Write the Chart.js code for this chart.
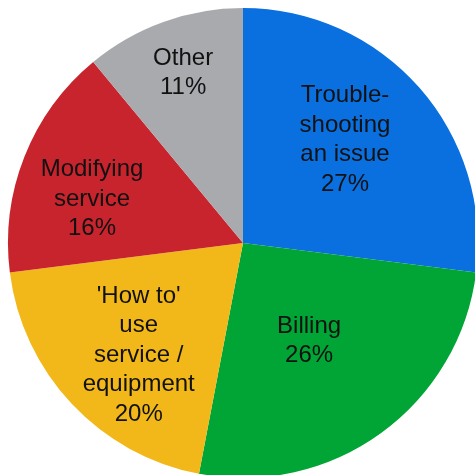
<!DOCTYPE html>
<html>
<head>
<meta charset="utf-8">
<script src="https://cdn.jsdelivr.net/npm/chart.js@4"></script>
<style>
  html, body { margin: 0; padding: 0; background: #fff; overflow: hidden; }
  #wrap { width: 475px; height: 475px; overflow: hidden; }
  canvas { display: block; }
</style>
</head>
<body>
<div id="wrap"><canvas id="myChart" width="486" height="486"></canvas></div>
<script>
// contact reasons, share of calls
var categories = ['Trouble-shooting an issue', 'Billing', "'How to' use service / equipment", 'Modifying service', 'Other'];
var labelLines = [
    ['Trouble-', 'shooting', 'an issue'],
    ['Billing'],
    ["'How to'", 'use', 'service /', 'equipment'],
    ['Modifying', 'service'],
    ['Other']
];
var shares = [27, 26, 20, 16, 11];
var colours = ['#0a70e0', '#00a535', '#f2b81a', '#c8242e', '#a8aaad'];

// where each label sits: fraction of the radius, and degrees off the slice middle
var labelSpots = [
    { r: 0.617, a: -3.9 },
    { r: 0.503, a: 2.0 },
    { r: 0.652, a: -3.9 },
    { r: 0.669, a: -5.4 },
    { r: 0.767, a: 0.4 }
];

const sliceLabels = {
    id: 'sliceLabels',
    afterDatasetsDraw(chart) {
        const ctx = chart.ctx;
        const arcs = chart.getDatasetMeta(0).data;
        ctx.save();
        ctx.fillStyle = '#111';
        ctx.font = '24px "Liberation Sans", Arial, sans-serif';
        ctx.textAlign = 'center';
        ctx.textBaseline = 'middle';
        arcs.forEach((arc, i) => {
            const p = arc.getProps(['x', 'y', 'startAngle', 'endAngle', 'outerRadius'], true);
            const ang = (p.startAngle + p.endAngle) / 2 + labelSpots[i].a * Math.PI / 180;
            const rr = p.outerRadius * labelSpots[i].r;
            const cx = p.x + Math.cos(ang) * rr;
            const cy = p.y + Math.sin(ang) * rr;
            const lines = labelLines[i].concat([shares[i] + '%']);
            const lh = 29.5;
            const top = cy - (lines.length - 1) * lh / 2;
            lines.forEach((t, j) => {
                ctx.fillText(t, cx, top + j * lh);
            });
        });
        ctx.restore();
    }
};

const ctx = document.getElementById('myChart');

var c = new Chart(ctx, {
    type: 'pie',
    data: {
        labels: categories,
        datasets: [{
            data: shares,
            backgroundColor: colours,
            borderWidth: 0
        }]
    },
    options: {
        responsive: false,
        animation: false,
        layout: { padding: 8 },
        plugins: {
            legend: { display: false },
            tooltip: { enabled: false }
        }
    },
    plugins: [sliceLabels]
});
</script>
</body>
</html>
